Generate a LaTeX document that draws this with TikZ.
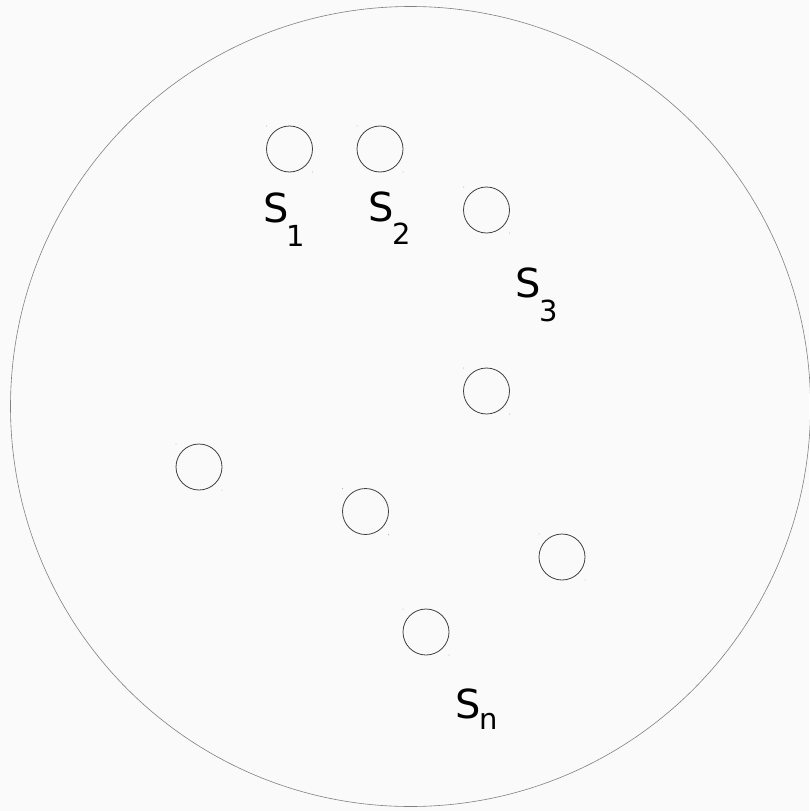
\documentclass[tikz,border=0pt]{standalone}
\usepackage{fontspec}
\setmainfont{DejaVu Sans}
\usetikzlibrary{calc}
\begin{document}
\begin{tikzpicture}[x=1pt,y=-1pt,
  site/.style={circle,draw=black!75,line width=0.8pt,minimum size=46pt,inner sep=0pt},
  corner/.style={fill=black!35,circle,inner sep=0pt,minimum size=1pt},
  slab/.style={anchor=base west,inner sep=0pt,font=\fontsize{40}{40}\selectfont},
  sublab/.style={anchor=base west,inner sep=0pt,font=\fontsize{29}{29}\selectfont}]
\useasboundingbox (0,0) rectangle (809,811);
\fill[black!2] (0,0) rectangle (809,811);
\node[circle,draw=black!50,line width=0.6pt,minimum size=800pt,inner sep=0pt] (big) at (410.5,406.5) {};
\foreach \n/\x/\y in {a/289.5/149,b/380/149,c/486.5/210,d/486.5/391,e/199/467,f/365.5/511.5,g/562/557,h/426/632}{
  \node[site] (\n) at (\x,\y) {};
  \node[corner] at ($(\n.center)+(-23,-23)$) {};
  \node[corner] at ($(\n.center)+(23,23)$) {};
}
\node[slab] (l1) at (263,222) {S};
\node[sublab] (l1s) at (286,246) {1};
\node[slab] (l2) at (368.5,221) {S};
\node[sublab] (l2s) at (392,244) {2};
\node[slab] (l3) at (515.5,297) {S};
\node[sublab] (l3s) at (539,321.5) {3};
\node[slab] (ln) at (455,718) {S};
\node[sublab] (lns) at (479.5,729) {n};
\end{tikzpicture}
\end{document}
